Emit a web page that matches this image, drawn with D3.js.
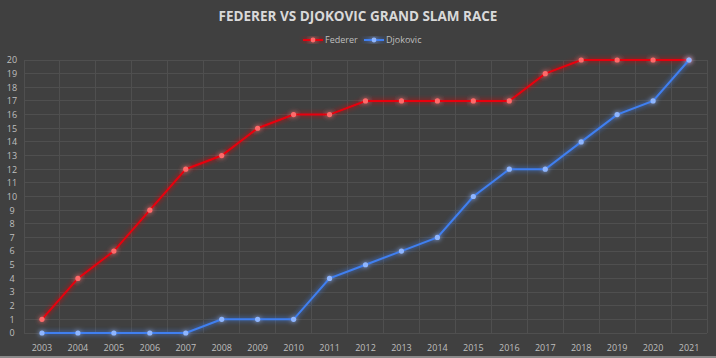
<!DOCTYPE html>
<html><head><meta charset="utf-8">
<script src="https://cdn.jsdelivr.net/npm/d3@7/dist/d3.min.js"></script>
<style>html,body{margin:0;padding:0;background:#404040;}svg{display:block;}</style>
</head><body>
<script>
const years = ["2003","2004","2005","2006","2007","2008","2009","2010","2011","2012","2013","2014","2015","2016","2017","2018","2019","2020","2021"];
const federer = [1,4,6,9,12,13,15,16,16,17,17,17,17,17,19,20,20,20,20];
const djokovic = [0,0,0,0,0,1,1,1,4,5,6,7,10,12,12,14,16,17,20];
const yTicks = d3.range(0,21);
const title = "FEDERER VS DJOKOVIC GRAND SLAM RACE";

(function(){
const W=716,H=358;
const svg=d3.select("body").append("svg").attr("width",W).attr("height",H);
svg.append("rect").attr("width",W).attr("height",H).attr("fill","#404040");
svg.append("rect").attr("x",0).attr("y",H-2).attr("width",W).attr("height",2).attr("fill","#8a8a8a");
const defs=svg.append("defs");
const glow=defs.append("filter").attr("id","glow").attr("x","-20%").attr("y","-20%").attr("width","140%").attr("height","140%");
glow.append("feGaussianBlur").attr("in","SourceGraphic").attr("stdDeviation",2.4).attr("result","b");
const m=glow.append("feMerge");
m.append("feMergeNode").attr("in","b");
m.append("feMergeNode").attr("in","SourceGraphic");

const pL=24,pR=707,pT=60,pB=333;
const x=d3.scaleBand().domain(years).range([pL,pR]);
const y=d3.scaleLinear().domain([0,20]).range([pB,pT]);
const cx=d=>x(d)+x.bandwidth()/2;

const font="'Open Sans','Liberation Sans',sans-serif";
const g=svg.append("g");
g.selectAll("line.h").data(yTicks).enter().append("line")
 .attr("x1",pL).attr("x2",pR).attr("y1",d=>y(d)).attr("y2",d=>y(d))
 .attr("stroke","#4f4f4f").attr("stroke-width",1).attr("shape-rendering","crispEdges");
const vb=d3.range(years.length+1).map(i=>pL+i*x.step());
g.selectAll("line.v").data(vb).enter().append("line")
 .attr("x1",d=>d).attr("x2",d=>d).attr("y1",pT).attr("y2",pB)
 .attr("stroke","#4f4f4f").attr("stroke-width",1).attr("shape-rendering","crispEdges");

const yAxis=svg.append("g").attr("transform",`translate(${pL-6},0)`)
 .call(d3.axisLeft(y).tickValues(yTicks).tickSize(0).tickPadding(0));
yAxis.select(".domain").remove();
yAxis.selectAll("text").attr("fill","#bfbfbf").attr("font-size","9px").attr("font-family",font).attr("text-anchor","middle").attr("x",-6);
const xAxis=svg.append("g").attr("transform",`translate(0,${pB})`)
 .call(d3.axisBottom(x).tickSize(0).tickPadding(12));
xAxis.select(".domain").remove();
xAxis.selectAll("text").attr("fill","#bfbfbf").attr("font-size","9px").attr("font-family",font);

svg.append("text").attr("x",W/2).attr("y",21).attr("text-anchor","middle")
 .attr("fill","#d9d9d9").attr("font-size","13.5px").attr("font-weight","bold").attr("font-family",font).text(title);

const series=[{name:"Federer",vals:federer,color:"#e8000e",dot:"#ff6b6b"},{name:"Djokovic",vals:djokovic,color:"#3f7ff0",dot:"#8fb6ff"}];
const line=d3.line().x((d,i)=>cx(years[i])).y(d=>y(d));
series.forEach(s=>{
  const gg=svg.append("g").attr("filter","url(#glow)");
  gg.append("path").datum(s.vals).attr("d",line).attr("fill","none").attr("stroke",s.color).attr("stroke-width",2);
  gg.selectAll("circle").data(s.vals).enter().append("circle")
   .attr("cx",(d,i)=>cx(years[i])).attr("cy",d=>y(d)).attr("r",2.6).attr("fill",s.dot);
});

const leg=[{s:series[0],x0:303},{s:series[1],x0:364}];
leg.forEach(l=>{
  const gg=svg.append("g").attr("filter","url(#glow)");
  gg.append("line").attr("x1",l.x0).attr("x2",l.x0+20).attr("y1",40).attr("y2",40).attr("stroke",l.s.color).attr("stroke-width",2);
  gg.append("circle").attr("cx",l.x0+10).attr("cy",40).attr("r",2.4).attr("fill",l.s.dot);
  svg.append("text").attr("x",l.x0+22).attr("y",43).attr("fill","#bfbfbf").attr("font-size","9px").attr("font-family",font).text(l.s.name);
});
})();
</script>
</body></html>
